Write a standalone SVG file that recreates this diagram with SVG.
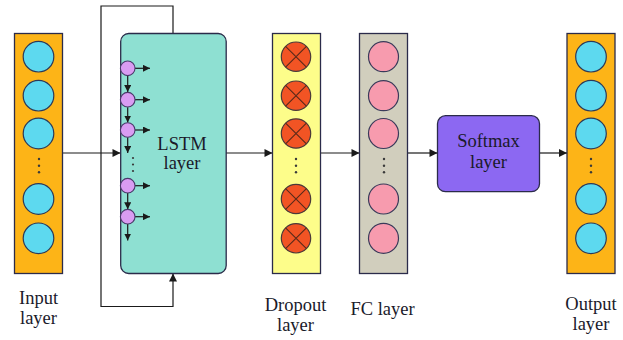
<svg xmlns="http://www.w3.org/2000/svg" width="623" height="340" viewBox="0 0 623 340">
<defs>
<marker id="ah" viewBox="0 0 10 10" refX="10" refY="5" markerWidth="9" markerHeight="8" markerUnits="userSpaceOnUse" orient="auto">
<path d="M0,0 L10,5 L0,10 z" fill="#1a1a1a"/>
</marker>
<marker id="as" viewBox="0 0 10 10" refX="10" refY="5" markerWidth="7" markerHeight="7" markerUnits="userSpaceOnUse" orient="auto">
<path d="M0,0 L10,5 L0,10 z" fill="#1a1a1a"/>
</marker>
</defs>
<style>
.lbl{font-size:18.5px;fill:#1a1a2a;text-anchor:middle}
.col{stroke:#2b2b4a;stroke-width:1.3}
.cy{fill:#5dd9ef;stroke:#2b3a5a;stroke-width:1.2}
.rd{fill:#f25424;stroke:#4a3a3a;stroke-width:1.2}
.xx{stroke:#5a2a1a;stroke-width:1.1}
.pk{fill:#f79bae;stroke:#3a3a5a;stroke-width:1.2}
.pp{fill:#d99cf2;stroke:#4a3a6a;stroke-width:1.1}
.dot{fill:#3a3a3a}
.ln{stroke:#1a1a1a;stroke-width:1.2;fill:none}
</style>
<rect width="623" height="340" fill="#ffffff"/>

<g id="connectors">
<polyline class="ln" points="173,33 173,6 101,6 101,306.5 173,306.5 173,273.5" marker-end="url(#ah)"/>
<line class="ln" x1="63" y1="153" x2="120.5" y2="153" marker-end="url(#ah)"/>
<line class="ln" x1="226" y1="153" x2="272.5" y2="153" marker-end="url(#ah)"/>
<line class="ln" x1="321" y1="153" x2="359.5" y2="153" marker-end="url(#ah)"/>
<line class="ln" x1="408" y1="153" x2="437.5" y2="153" marker-end="url(#ah)"/>
<line class="ln" x1="539.5" y1="153" x2="567" y2="153" marker-end="url(#ah)"/>
</g>

<g font-family="Liberation Serif, Times New Roman, DejaVu Serif, serif">
<g id="input-layer">
<rect class="col" x="14.5" y="33.5" width="48" height="240" fill="#fdb417"/>
<circle class="cy" cx="38.5" cy="56.7" r="15.3"/>
<circle class="cy" cx="38.5" cy="95.7" r="15.3"/>
<circle class="cy" cx="38.5" cy="133.5" r="15.3"/>
<circle class="dot" cx="39" cy="159" r="1.2"/>
<circle class="dot" cx="39" cy="165.7" r="1.2"/>
<circle class="dot" cx="39" cy="172.3" r="1.2"/>
<circle class="cy" cx="38.5" cy="199" r="15.3"/>
<circle class="cy" cx="38.5" cy="238.3" r="15.3"/>
<text class="lbl" x="38.5" y="304" font-family="Liberation Serif, serif">Input</text>
<text class="lbl" x="38.5" y="323.5" font-family="Liberation Serif, serif">layer</text>
</g>

<g id="lstm-layer">
<rect class="col" x="120.7" y="33.5" width="105.5" height="240" rx="8" fill="#8ee0d2"/>
<line class="ln" x1="127.7" y1="75.5" x2="127.7" y2="92" marker-end="url(#as)"/>
<line class="ln" x1="127.7" y1="107.3" x2="127.7" y2="122.5" marker-end="url(#as)"/>
<line class="ln" x1="127.7" y1="137.3" x2="127.7" y2="153" marker-end="url(#as)"/>
<line class="ln" x1="127.7" y1="193" x2="127.7" y2="209.3" marker-end="url(#as)"/>
<line class="ln" x1="127.7" y1="224" x2="127.7" y2="240.5" marker-end="url(#as)"/>
<line class="ln" x1="135" y1="68.3" x2="150" y2="68.3" marker-end="url(#as)"/>
<line class="ln" x1="135" y1="99.7" x2="150" y2="99.7" marker-end="url(#as)"/>
<line class="ln" x1="135" y1="130" x2="150" y2="130" marker-end="url(#as)"/>
<line class="ln" x1="135" y1="185.7" x2="150" y2="185.7" marker-end="url(#as)"/>
<line class="ln" x1="135" y1="216.7" x2="150" y2="216.7" marker-end="url(#as)"/>
<circle class="pp" cx="127.7" cy="68.3" r="7.3"/>
<circle class="pp" cx="127.7" cy="99.7" r="7.3"/>
<circle class="pp" cx="127.7" cy="130" r="7.3"/>
<circle class="dot" cx="133" cy="158" r="1.1"/>
<circle class="dot" cx="133" cy="164.5" r="1.1"/>
<circle class="dot" cx="133" cy="171" r="1.1"/>
<circle class="pp" cx="127.7" cy="185.7" r="7.3"/>
<circle class="pp" cx="127.7" cy="216.7" r="7.3"/>
<text class="lbl" x="182" y="150" font-family="Liberation Serif, serif">LSTM</text>
<text class="lbl" x="182" y="168.5" font-family="Liberation Serif, serif">layer</text>
</g>

<g id="dropout-layer">
<rect class="col" x="272.5" y="33.5" width="48" height="240" fill="#fdfd8a"/>
<circle class="rd" cx="296" cy="56.7" r="14.7"/>
<path class="xx" d="M285.6,46.3 L306.4,67.1 M306.4,46.3 L285.6,67.1"/>
<circle class="rd" cx="296" cy="95.7" r="14.7"/>
<path class="xx" d="M285.6,85.3 L306.4,106.1 M306.4,85.3 L285.6,106.1"/>
<circle class="rd" cx="296" cy="133.5" r="14.7"/>
<path class="xx" d="M285.6,123.1 L306.4,143.9 M306.4,123.1 L285.6,143.9"/>
<circle class="dot" cx="296" cy="159" r="1.2"/>
<circle class="dot" cx="296" cy="165.7" r="1.2"/>
<circle class="dot" cx="296" cy="172.3" r="1.2"/>
<circle class="rd" cx="296" cy="199" r="14.7"/>
<path class="xx" d="M285.6,188.6 L306.4,209.4 M306.4,188.6 L285.6,209.4"/>
<circle class="rd" cx="296" cy="238.3" r="14.7"/>
<path class="xx" d="M285.6,227.9 L306.4,248.7 M306.4,227.9 L285.6,248.7"/>
<text class="lbl" x="295.5" y="310.5" font-family="Liberation Serif, serif">Dropout</text>
<text class="lbl" x="295.5" y="330.5" font-family="Liberation Serif, serif">layer</text>
</g>

<g id="fc-layer">
<rect class="col" x="359.5" y="33.5" width="48" height="240" fill="#d1cebd"/>
<circle class="pk" cx="383.5" cy="56.7" r="15"/>
<circle class="pk" cx="383.5" cy="95.7" r="15"/>
<circle class="pk" cx="383.5" cy="133.5" r="15"/>
<circle class="dot" cx="384" cy="159" r="1.2"/>
<circle class="dot" cx="384" cy="165.7" r="1.2"/>
<circle class="dot" cx="384" cy="172.3" r="1.2"/>
<circle class="pk" cx="383.5" cy="199" r="15"/>
<circle class="pk" cx="383.5" cy="238.3" r="15"/>
<text class="lbl" x="382.5" y="315" font-family="Liberation Serif, serif">FC layer</text>
</g>

<g id="softmax-layer">
<rect class="col" x="437.5" y="115.7" width="102" height="76" rx="8" fill="#8c68f2"/>
<text class="lbl" x="488.5" y="146.5" font-family="Liberation Serif, serif">Softmax</text>
<text class="lbl" x="488.5" y="167.5" font-family="Liberation Serif, serif">layer</text>
</g>

<g id="output-layer">
<rect class="col" x="567" y="33.5" width="48" height="240" fill="#fdb417"/>
<circle class="cy" cx="591" cy="56.7" r="15.3"/>
<circle class="cy" cx="591" cy="95.7" r="15.3"/>
<circle class="cy" cx="591" cy="133.5" r="15.3"/>
<circle class="dot" cx="591" cy="159" r="1.2"/>
<circle class="dot" cx="591" cy="165.7" r="1.2"/>
<circle class="dot" cx="591" cy="172.3" r="1.2"/>
<circle class="cy" cx="591" cy="199" r="15.3"/>
<circle class="cy" cx="591" cy="238.3" r="15.3"/>
<text class="lbl" x="591" y="309.5" font-family="Liberation Serif, serif">Output</text>
<text class="lbl" x="591" y="330" font-family="Liberation Serif, serif">layer</text>
</g>
</g>
</svg>
